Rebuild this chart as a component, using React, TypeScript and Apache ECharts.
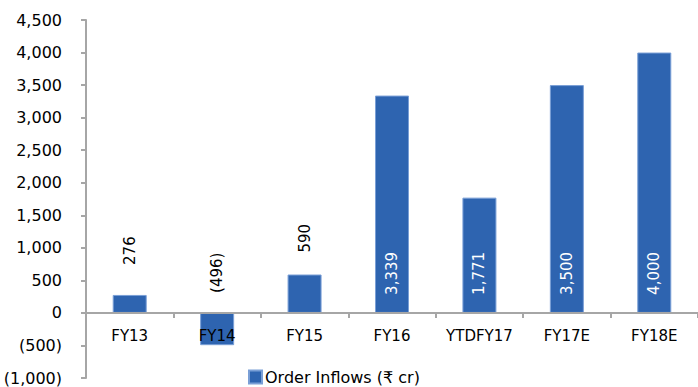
import React, { useEffect, useRef } from "react";
import * as echarts from "echarts";

const categories = ["FY13", "FY14", "FY15", "FY16", "YTDFY17", "FY17E", "FY18E"];
const orderInflows = [276, -496, 590, 3339, 1771, 3500, 4000];
const insideLabel = [false, false, false, true, true, true, true];
const outsideDistance = [30, 20, 22, 0, 0, 0, 0];
const yMin = -1000;
const yMax = 4500;

const fmt = (v: number) => {
  const s = Math.abs(v).toLocaleString("en-US");
  return v < 0 ? `(${s})` : s;
};

const FONT = "DejaVu Sans";
const GRID_TOP = 20;
const GRID_BOTTOM = 9;
const H = 387;

export default function App() {
  const ref = useRef<HTMLDivElement>(null);
  useEffect(() => {
    if (!ref.current) return;
    const chart = echarts.init(ref.current, null, { renderer: "svg" });
    const plotH = H - GRID_TOP - GRID_BOTTOM;
    const zeroOffset = -((0 - yMin) / (yMax - yMin)) * plotH;
    chart.setOption({
      animation: false,
      textStyle: { fontFamily: FONT },
      grid: { left: 86, right: 0, top: GRID_TOP, bottom: GRID_BOTTOM, containLabel: false, outerBoundsMode: "none" },
      legend: {
        data: ["Order Inflows (₹ cr)"],
        left: 248,
        top: 369,
        padding: 0,
        itemWidth: 13,
        itemHeight: 13,
        icon: "rect",
        textStyle: { fontFamily: FONT, fontSize: 16, lineHeight: 16, color: "#000", padding: [0, 0, 0, -2] },
      },
      xAxis: {
        type: "category",
        data: categories,
        offset: zeroOffset,
        z: 5,
        axisLine: { onZero: false, lineStyle: { color: "#A6A6A6", width: 2 } },
        axisTick: { show: true, length: 5, lineStyle: { color: "#A6A6A6", width: 2 } },
        axisLabel: { fontFamily: FONT, fontSize: 15, color: "#000", margin: 16 },
      },
      yAxis: {
        type: "value",
        min: yMin,
        max: yMax,
        interval: 500,
        splitLine: { show: false },
        axisLine: { show: true, lineStyle: { color: "#A6A6A6", width: 2 } },
        axisTick: { show: true, length: 5, lineStyle: { color: "#A6A6A6", width: 2 } },
        axisLabel: {
          fontFamily: FONT,
          fontSize: 16,
          color: "#000",
          margin: 24,
          formatter: (v: number) => fmt(v),
        },
      },
      series: [
        {
          name: "Order Inflows (₹ cr)",
          type: "bar",
          barWidth: 34,
          itemStyle: { color: "#2E64B0", borderColor: "#7A9FD6", borderWidth: 1 },
          data: orderInflows.map((v, i) => ({
            value: v,
            label: insideLabel[i]
              ? {
                  show: true,
                  position: "insideBottom",
                  distance: 18,
                  rotate: 90,
                  align: "left",
                  verticalAlign: "middle",
                  color: "#fff",
                  fontSize: 15,
                  fontFamily: FONT,
                  formatter: () => fmt(v),
                }
              : {
                  show: true,
                  position: "top",
                  distance: outsideDistance[i],
                  rotate: 90,
                  align: "left",
                  verticalAlign: "middle",
                  color: "#000",
                  fontSize: 15,
                  fontFamily: FONT,
                  formatter: () => fmt(v),
                },
          })),
        },
      ],
    });
    return () => chart.dispose();
  }, []);
  return <div ref={ref} style={{ width: 698, height: 387, position: "absolute", left: 0, top: 0 }} />;
}
